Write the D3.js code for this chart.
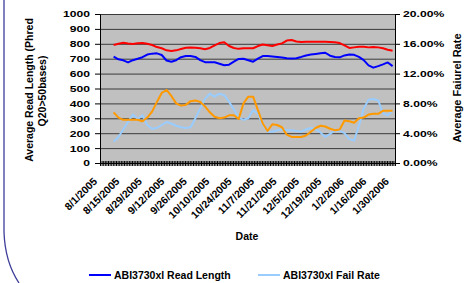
<!DOCTYPE html>
<html>
<head>
<meta charset="utf-8">
<script src="https://cdn.jsdelivr.net/npm/d3@7"></script>
<style>
  body { margin: 0; background: #fff; }
  svg { display: block; font-family: Arial, "Liberation Sans", sans-serif; font-weight: bold; }
</style>
</head>
<body>
<svg id="chart" width="466" height="283"></svg>
<script>
// sample dates (every 3rd day)
const dates = [
  "8/9/2005","8/12/2005","8/15/2005","8/18/2005","8/21/2005","8/24/2005","8/27/2005","8/30/2005",
  "9/2/2005","9/5/2005","9/8/2005","9/11/2005","9/14/2005","9/17/2005","9/20/2005","9/23/2005","9/26/2005","9/29/2005",
  "10/2/2005","10/5/2005","10/8/2005","10/11/2005","10/14/2005","10/17/2005","10/20/2005","10/23/2005","10/26/2005","10/29/2005",
  "11/1/2005","11/4/2005","11/7/2005","11/10/2005","11/13/2005","11/16/2005","11/19/2005","11/22/2005","11/25/2005","11/28/2005",
  "12/1/2005","12/4/2005","12/7/2005","12/10/2005","12/13/2005","12/16/2005","12/19/2005","12/22/2005","12/25/2005","12/28/2005","12/31/2005",
  "1/3/2006","1/6/2006","1/9/2006","1/12/2006","1/15/2006","1/18/2006","1/21/2006","1/24/2006","1/27/2006","1/30/2006"
];

// read length, left axis
const readLengthRed = [792,800,807,802,799,803,806,800,792,778,770,756,752,756,765,774,775,774,770,763,
  772,790,805,810,785,772,766,770,770,770,785,795,790,785,795,803,822,825,815,812,
  814,814,814,814,813,812,811,805,790,772,776,780,780,776,778,776,770,760,754];
const readLength3730 = [714,696,689,675,690,700,710,728,734,736,725,688,680,690,710,718,718,712,690,677,
  676,676,666,656,660,680,698,700,690,680,700,718,718,715,712,708,703,702,703,712,
  722,728,732,736,740,720,712,709,722,728,726,712,690,655,640,650,662,675,650];

// fail rate (%), right axis
const failRateOrange = [6.8,6.1,5.8,5.8,5.8,5.8,5.6,6.1,6.9,8.2,9.4,9.8,9.0,8.0,7.7,7.8,8.3,8.4,8.2,7.6,
  6.8,6.2,6.0,6.1,6.4,6.4,5.9,8.0,8.9,8.9,7.1,5.3,4.3,5.2,5.1,4.8,3.8,3.5,3.5,3.5,
  3.7,4.2,4.7,5.0,4.9,4.6,4.4,4.5,5.7,5.6,5.4,6.0,6.1,6.5,6.6,6.6,7.0,7.0,7.0];
const failRate3730 = [2.9,3.5,4.5,5.5,6.5,5.9,6.4,5.1,4.6,4.7,5.1,5.5,5.3,5.0,4.8,4.7,4.8,6.0,7.3,8.6,
  9.3,8.9,9.3,9.1,8.2,7.2,6.1,5.8,6.0,7.1,6.6,5.1,4.2,4.2,4.4,4.5,4.4,4.4,4.3,4.2,
  4.5,4.7,4.5,4.1,3.5,3.9,4.4,4.3,4.0,3.2,3.0,5.0,7.3,8.5,8.6,8.4,6.7,6.4,7.0];

const leftTicks = [0,100,200,300,400,500,600,700,800,900,1000];
const rightTicks = [0,4,8,12,16,20];
const dateLabels = ["8/1/2005","8/15/2005","8/29/2005","9/12/2005","9/26/2005","10/10/2005","10/24/2005",
  "11/7/2005","11/21/2005","12/5/2005","12/19/2005","1/2/2006","1/16/2006","1/30/2006"];

const parse = d3.timeParse("%-m/%-d/%Y");
const mid = d => d3.timeHour.offset(parse(d), 12);

const svg = d3.select("#chart");
const L = 100, R = 395, T = 14, B = 163;

const x = d3.scaleTime().domain([new Date(2005, 7, 1), new Date(2006, 1, 1)]).range([L, R]);
const y = d3.scaleLinear().domain([0, 1000]).range([B, T]);
const y2 = d3.scaleLinear().domain([0, 20]).range([B, T]);

// slide border on the left
svg.append("path")
  .attr("d", "M4,0 L4,232 Q5,262 19,283")
  .attr("fill", "none").attr("stroke", "#3d3d99").attr("stroke-width", 1.3);

// plot area
svg.append("rect").attr("x", L).attr("y", T).attr("width", R - L).attr("height", B - T).attr("fill", "#c0c0c0");

svg.append("g").selectAll("line").data(leftTicks.slice(1)).join("line")
  .attr("x1", L).attr("x2", R)
  .attr("y1", d => y(d) + 0.5).attr("y2", d => y(d) + 0.5)
  .attr("stroke", "#3a3a3a").attr("stroke-width", 1);

// series
const line = (scale) => d3.line().x((d, i) => x(mid(dates[i]))).y(d => scale(d));
const series = [
  {data: failRate3730, scale: y2, color: "#99ccff"},
  {data: failRateOrange, scale: y2, color: "#ff9900"},
  {data: readLengthRed, scale: y, color: "#ff0000"},
  {data: readLength3730, scale: y, color: "#0000ff"}
];
svg.append("g").selectAll("path").data(series).join("path")
  .attr("d", s => line(s.scale)(s.data))
  .attr("fill", "none").attr("stroke", s => s.color)
  .attr("stroke-width", 2).attr("stroke-linejoin", "round");

// axes
const gl = svg.append("g").attr("transform", `translate(${L},0)`)
  .call(d3.axisLeft(y).tickValues(leftTicks).tickSize(5).tickFormat(""));
const gr = svg.append("g").attr("transform", `translate(${R},0)`)
  .call(d3.axisRight(y2).tickValues(rightTicks).tickSize(5).tickFormat(""));
const gb = svg.append("g").attr("transform", `translate(0,${B})`)
  .call(d3.axisBottom(x).ticks(d3.timeDay.every(1)).tickSize(3).tickSizeOuter(0).tickFormat(""));
gb.selectAll(".tick line").attr("y1", -2);
[gl, gr, gb].forEach(g => {
  g.select(".domain").attr("stroke", "#000").attr("stroke-width", 1);
  g.selectAll(".tick line").attr("stroke", "#000");
});

// tick labels
svg.append("g").selectAll("text").data(leftTicks).join("text")
  .attr("transform", d => `translate(90,${y(d) + 3.4}) scale(1.28,1)`)
  .attr("text-anchor", "end").attr("font-size", 9.5).text(d => d);

svg.append("g").selectAll("text").data(rightTicks).join("text")
  .attr("transform", d => `translate(403,${y2(d) + 3.4}) scale(1.28,1)`)
  .attr("font-size", 9.5).text(d => d3.format(".2f")(d) + "%");

svg.append("g").selectAll("text").data(dateLabels).join("text")
  .attr("transform", d => `translate(${x(mid(d)) - 3},${B + 19}) rotate(-45)`)
  .attr("text-anchor", "end").attr("font-size", 10.5).text(d => d);

// axis titles
svg.append("text").attr("transform", "translate(33,90) rotate(-90)")
  .attr("text-anchor", "middle").attr("font-size", 10.5).text("Average Read Length (Phred");
svg.append("text").attr("transform", "translate(46,91) rotate(-90)")
  .attr("text-anchor", "middle").attr("font-size", 10.5).text("Q20>50bases)");
svg.append("text").attr("transform", "translate(461,88) rotate(-90)")
  .attr("text-anchor", "middle").attr("font-size", 11).text("Average Faiurel Rate");
svg.append("text").attr("x", 247).attr("y", 240)
  .attr("text-anchor", "middle").attr("font-size", 10.5).text("Date");

// legend
const legend = [
  {name: "ABI3730xl Read Length", color: "#0000ff", x0: 89},
  {name: "ABI3730xl Fail Rate", color: "#99ccff", x0: 258}
];
const lg = svg.append("g").selectAll("g").data(legend).join("g")
  .attr("transform", d => `translate(${d.x0},275)`);
lg.append("line").attr("x1", 0).attr("x2", 22).attr("y1", 0).attr("y2", 0)
  .attr("stroke", d => d.color).attr("stroke-width", 2);
lg.append("text").attr("x", 25).attr("y", 4).attr("font-size", 10.5).text(d => d.name);
</script>
</body>
</html>
